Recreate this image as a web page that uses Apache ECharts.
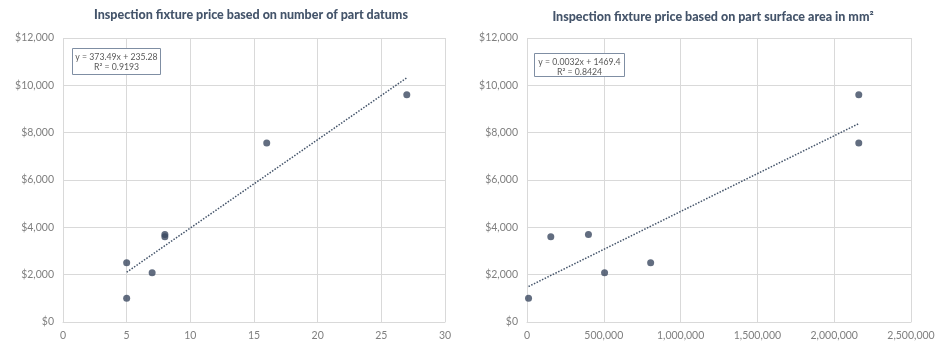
<!DOCTYPE html>
<html><head><meta charset="utf-8">
<script src="https://cdn.jsdelivr.net/npm/echarts@6/dist/echarts.min.js"></script>
<style>html,body{margin:0;padding:0;background:#fff}#c{width:938px;height:359px}</style>
</head><body><div id="c"></div>
<script>
// Left chart: number of part datums vs price
const datums = [5, 5, 7, 8, 8, 16, 27];
const pricesLeft = [2500, 1000, 2085, 3700, 3600, 7560, 9600];
const trendLeft = [[5, 2103], [27, 10319]];
// Right chart: part surface area (mm²) vs price
const areas = [10000, 155000, 400000, 505000, 805000, 2160000, 2160000];
const pricesRight = [1000, 3600, 3700, 2085, 2500, 9600, 7560];
const trendRight = [[10000, 1501], [2160000, 8381]];
// Titles & annotations
const titleLeft = 'Inspection fixture price based on number of part datums';
const titleRight = 'Inspection fixture price based on part surface area in mm²';
const eqLeft = 'y = 373.49x + 235.28\nR² = 0.9193';
const eqRight = 'y = 0.0032x + 1469.4\nR² = 0.8424';
const yTicks = {min: 0, max: 12000, interval: 2000};
const xLeftTicks = {min: 0, max: 30, interval: 5};
const xRightTicks = {min: 0, max: 2500000, interval: 500000};

const FONT = 'Lato';
const dark = '#44546A';
const dot = '#3b4860';
const grey = '#7f7f7f';
const gridC = '#d9d9d9';
const fmt = v => v.toLocaleString('en-US');

function xAxis(idx, t) {
  return {type: 'value', gridIndex: idx, min: t.min, max: t.max, interval: t.interval,
    axisLine: {show: true, lineStyle: {color: gridC}}, axisTick: {show: false},
    splitLine: {show: true, lineStyle: {color: gridC}},
    axisLabel: {color: grey, fontFamily: FONT, fontSize: 10.5, margin: 8, formatter: fmt}};
}
function yAxis(idx) {
  return {type: 'value', gridIndex: idx, min: yTicks.min, max: yTicks.max, interval: yTicks.interval,
    axisLine: {show: false}, axisTick: {show: false},
    splitLine: {show: true, lineStyle: {color: gridC}},
    axisLabel: {color: grey, fontFamily: FONT, fontSize: 10.5, margin: 9, formatter: v => '$' + fmt(v)}};
}
function eqBox(x, y, w, h, txt) {
  return {type: 'group', left: x, top: y, z: 100, children: [
    {type: 'rect', z: 100, shape: {x: 0, y: 0, width: w, height: h}, style: {fill: '#fff', stroke: '#7f8ea3', lineWidth: 1}},
    {type: 'text', z: 101, x: w / 2, y: 3, style: {text: txt, fill: '#595959', font: '8.7px Lato', textAlign: 'center', lineHeight: 10.5}}
  ]};
}

const chart = echarts.init(document.getElementById('c'), null, {renderer: 'canvas'});
chart.setOption({
  animation: false,
  backgroundColor: '#fff',
  title: [
    {text: titleLeft, left: 246, top: 3, textAlign: 'center', textStyle: {color: dark, fontFamily: FONT, fontSize: 12.5, fontWeight: 900}},
    {text: titleRight, left: 708, top: 5, textAlign: 'center', textStyle: {color: dark, fontFamily: FONT, fontSize: 12.5, fontWeight: 900}}
  ],
  grid: [
    {left: 63, right: 493, top: 38, bottom: 37},
    {left: 527, right: 27, top: 38, bottom: 37}
  ],
  xAxis: [xAxis(0, xLeftTicks), xAxis(1, xRightTicks)],
  yAxis: [yAxis(0), yAxis(1)],
  series: [
    {type: 'line', xAxisIndex: 0, yAxisIndex: 0, data: trendLeft, symbol: 'none',
      lineStyle: {color: dark, width: 1.5, type: [1.5, 1.5]}},
    {type: 'scatter', xAxisIndex: 0, yAxisIndex: 0, data: datums.map((x, i) => [x, pricesLeft[i]]),
      symbolSize: 7, itemStyle: {color: dot}},
    {type: 'line', xAxisIndex: 1, yAxisIndex: 1, data: trendRight, symbol: 'none',
      lineStyle: {color: dark, width: 1.5, type: [1.5, 1.5]}},
    {type: 'scatter', xAxisIndex: 1, yAxisIndex: 1, data: areas.map((x, i) => [x, pricesRight[i]]),
      symbolSize: 7, itemStyle: {color: dot}}
  ],
  graphic: [eqBox(72, 48, 88, 26, eqLeft), eqBox(534, 53, 90, 23, eqRight)]
});
</script></body></html>
